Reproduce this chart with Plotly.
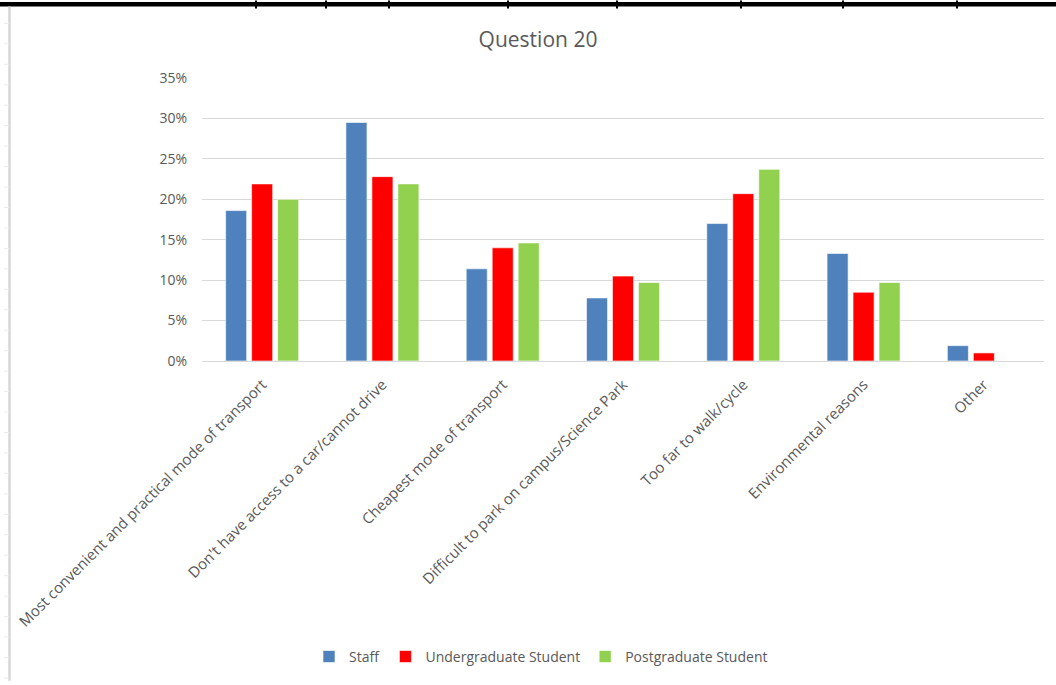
import plotly.graph_objects as go

categories = [
    "Most convenient and practical mode of transport",
    "Don't have access to a car/cannot drive",
    "Cheapest mode of transport",
    "Difficult to park on campus/Science Park",
    "Too far to walk/cycle",
    "Environmental reasons",
    "Other",
]
staff = [0.186, 0.295, 0.114, 0.078, 0.170, 0.133, 0.019]
undergraduate = [0.219, 0.228, 0.140, 0.105, 0.207, 0.085, 0.010]
postgraduate = [0.200, 0.219, 0.146, 0.097, 0.237, 0.097, 0.0]

series = [
    ("Staff", staff, "#4F81BD"),
    ("Undergraduate Student", undergraduate, "#FF0000"),
    ("Postgraduate Student", postgraduate, "#92D050"),
]

W, H = 1056, 685
L, R, T, B = 202, 1044, 78, 363
TXT = "#595959"
FONT = "Open Sans"


def px(x):
    return (x - L) / (R - L)


def py(y):
    return (B - y) / (B - T)


fig = go.Figure()
for name, vals, col in series:
    fig.add_trace(go.Bar(
        x=categories, y=vals, name=name,
        marker=dict(color=col, line=dict(color="white", width=0.6)),
    ))

shapes = []
# spreadsheet top border
shapes.append(dict(type="rect", xref="paper", yref="paper",
                   x0=px(0), x1=px(W), y0=py(1.5), y1=py(6),
                   fillcolor="black", line=dict(width=0), layer="above"))
for xd in [256, 326, 389, 508, 617, 741, 843, 957]:
    shapes.append(dict(type="line", xref="paper", yref="paper",
                       x0=px(xd), x1=px(xd), y0=py(0), y1=py(8),
                       line=dict(color="black", width=2)))
# left gray border
shapes.append(dict(type="line", xref="paper", yref="paper",
                   x0=px(9.5), x1=px(9.5), y0=py(6), y1=py(H),
                   line=dict(color="#d6d6d6", width=2.5)))
yy = 23.0
while yy < H:
    shapes.append(dict(type="line", xref="paper", yref="paper",
                       x0=px(4), x1=px(9), y0=py(yy), y1=py(yy),
                       line=dict(color="#ebebeb", width=1)))
    yy += 20.6

fig.update_layout(
    width=W, height=H,
    margin=dict(l=L, r=W - R, t=T, b=H - B, pad=0),
    paper_bgcolor="white", plot_bgcolor="white",
    font=dict(family=FONT, size=14, color=TXT),
    title=dict(text="Question 20", x=538 / W, xref="container", xanchor="center",
               y=1 - 40 / H, yref="container", yanchor="middle",
               font=dict(family=FONT, size=21, color=TXT)),
    barmode="group", bargap=0.352, bargroupgap=0.19,
    showlegend=True,
    legend=dict(orientation="h", x=px(541), xanchor="center",
                y=py(661), yanchor="middle",
                font=dict(family=FONT, size=14, color=TXT),
                itemwidth=30, traceorder="normal"),
    shapes=shapes,
)
fig.update_yaxes(range=[0, 0.35], dtick=0.05, tickformat=".0%",
                 showgrid=True, gridcolor="#d9d9d9", gridwidth=1,
                 zeroline=False, showline=False, ticks="",
                 ticklabelstandoff=14,
                 tickfont=dict(family=FONT, size=14, color=TXT))
fig.update_xaxes(showline=True, linecolor="#d9d9d9", linewidth=1,
                 ticks="", tickangle=-45, ticklabelstandoff=8,
                 tickfont=dict(family=FONT, size=15, color=TXT))

fig.write_html("out.html")
